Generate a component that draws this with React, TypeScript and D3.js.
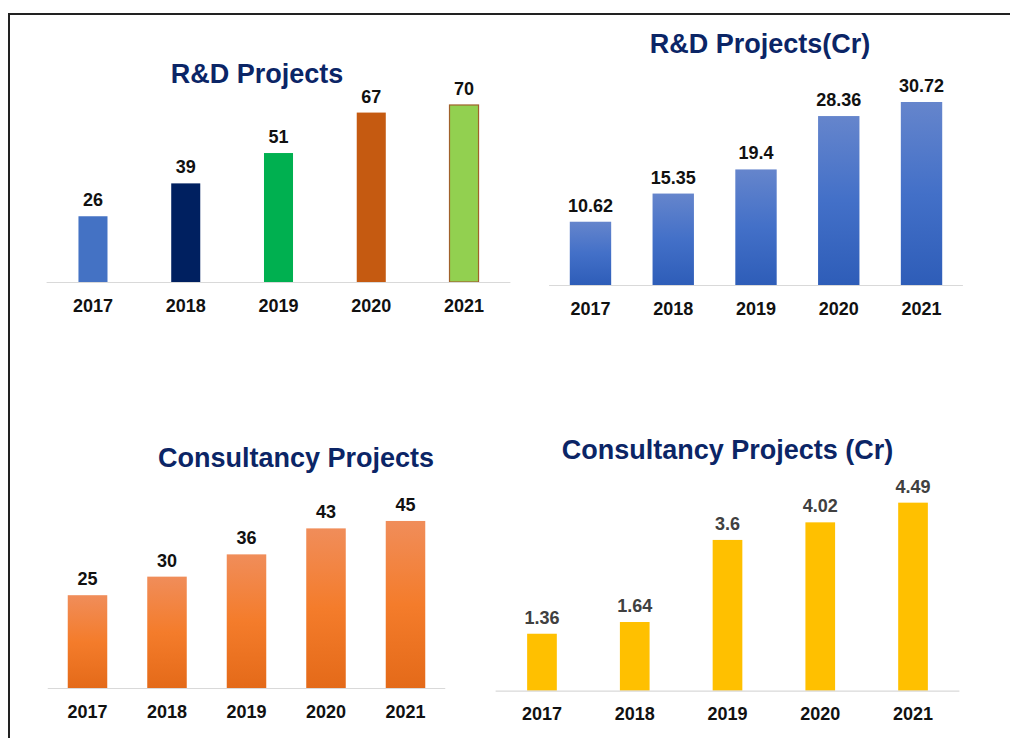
import React from "react";
import * as d3 from "d3";

const years = ["2017", "2018", "2019", "2020", "2021"];
const rdProjects = [26, 39, 51, 67, 70];
const rdCrore = [10.62, 15.35, 19.4, 28.36, 30.72];
const consProjects = [25, 30, 36, 43, 45];
const consCrore = [1.36, 1.64, 3.6, 4.02, 4.49];
const rdColors = ["#4472C4", "#002060", "#00B050", "#C55A11", "#92D050"];
const rdStroke = [null, null, null, null, "#A0612B"];

const FONT = "'Liberation Sans', Arial, sans-serif";
const TITLE_COLOR = "#0B2566";

type PanelProps = {
  title: string;
  titleX: number;
  titleY: number;
  values: number[];
  labels: string[];
  x0: number;
  x1: number;
  padding: number;
  base: number;
  yMax: number;
  yTop: number;
  fill: (i: number) => string;
  stroke?: (i: number) => string | null;
  labelColor: string;
};

function Panel(p: PanelProps) {
  const x = d3.scaleBand<string>().domain(years).range([p.x0, p.x1]).paddingInner(p.padding).paddingOuter(p.padding / 2);
  const y = d3.scaleLinear().domain([0, p.yMax]).range([p.base, p.yTop]);
  const bw = x.bandwidth();
  return (
    <g>
      <text x={p.titleX} y={p.titleY} textAnchor="middle" fontFamily={FONT} fontWeight="bold" fontSize={27} fill={TITLE_COLOR}>
        {p.title}
      </text>
      {p.values.map((v, i) => {
        const s = p.stroke ? p.stroke(i) : null;
        return (
          <rect
            key={i}
            x={x(years[i])!}
            y={y(v)}
            width={bw}
            height={y(0) - y(v)}
            fill={p.fill(i)}
            stroke={s || "none"}
            strokeWidth={s ? 1.2 : 0}
          />
        );
      })}
      <line x1={p.x0} x2={p.x1} y1={p.base + 0.5} y2={p.base + 0.5} stroke="#D9D9D9" strokeWidth={1.2} />
      {p.values.map((v, i) => (
        <text key={"v" + i} x={x(years[i])! + bw / 2} y={y(v) - 10} textAnchor="middle" fontFamily={FONT} fontWeight="bold" fontSize={18} fill={p.labelColor}>
          {p.labels[i]}
        </text>
      ))}
      {years.map((yr) => (
        <text key={"y" + yr} x={x(yr)! + bw / 2} y={p.base + 29.5} textAnchor="middle" fontFamily={FONT} fontWeight="bold" fontSize={18} fill="#111">
          {yr}
        </text>
      ))}
    </g>
  );
}

export default function App() {
  return (
    <svg width={1010} height={738} style={{ position: "absolute", left: 0, top: 0, background: "#fff" }}>
      <defs>
        <linearGradient id="gBlue" x1="0" y1="0" x2="0" y2="1">
          <stop offset="0" stopColor="#6585CC" />
          <stop offset="0.5" stopColor="#4370C8" />
          <stop offset="1" stopColor="#2E5DB8" />
        </linearGradient>
        <linearGradient id="gOrange" x1="0" y1="0" x2="0" y2="1">
          <stop offset="0" stopColor="#F08D5A" />
          <stop offset="0.5" stopColor="#F47C2B" />
          <stop offset="1" stopColor="#E46A19" />
        </linearGradient>
      </defs>
      <rect x={0} y={0} width={1010} height={738} fill="#fff" />
      <line x1={8} x2={1010} y1={14} y2={14} stroke="#222" strokeWidth={2} />
      <line x1={9} x2={9} y1={13} y2={738} stroke="#222" strokeWidth={2} />

      <Panel
        title="R&D Projects"
        titleX={257}
        titleY={83}
        values={rdProjects}
        labels={rdProjects.map(String)}
        x0={46.6}
        x1={510.4}
        padding={0.687}
        base={282}
        yMax={80}
        yTop={79.7}
        fill={(i) => rdColors[i]}
        stroke={(i) => rdStroke[i]}
        labelColor="#111"
      />
      <Panel
        title="R&D Projects(Cr)"
        titleX={760}
        titleY={53}
        values={rdCrore}
        labels={rdCrore.map(String)}
        x0={549.1}
        x1={962.9}
        padding={0.5}
        base={285}
        yMax={35}
        yTop={76.5}
        fill={() => "url(#gBlue)"}
        labelColor="#111"
      />
      <Panel
        title="Consultancy Projects"
        titleX={296}
        titleY={466.5}
        values={consProjects}
        labels={consProjects.map(String)}
        x0={47.75}
        x1={445.25}
        padding={0.503}
        base={688}
        yMax={50}
        yTop={502.4}
        fill={() => "url(#gOrange)"}
        labelColor="#111"
      />
      <Panel
        title="Consultancy Projects (Cr)"
        titleX={727.5}
        titleY={459}
        values={consCrore}
        labels={consCrore.map(String)}
        x0={495.6}
        x1={959.4}
        padding={0.68}
        base={690.7}
        yMax={5}
        yTop={481.3}
        fill={() => "#FFC000"}
        labelColor="#404040"
      />
    </svg>
  );
}
